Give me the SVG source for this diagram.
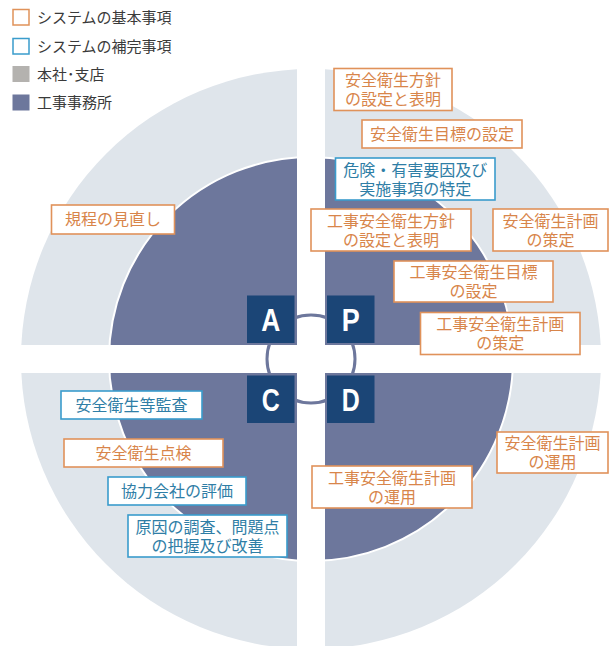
<svg xmlns="http://www.w3.org/2000/svg" width="611" height="646" viewBox="0 0 611 646">
<style>
.t{font-family:"Liberation Sans","Noto Sans CJK JP",sans-serif;font-size:16px;text-anchor:middle}
.o rect{fill:#fff;stroke:#e0925a;stroke-width:1.6}
.o text{fill:#d8854a}
.b rect{fill:#fff;stroke:#3a9ccc;stroke-width:1.6}
.b text{fill:#2f7ea6}
.lg{font-family:"Liberation Sans","Noto Sans CJK JP",sans-serif;font-size:15px;fill:#3a3a3a}
.k rect{fill:#1b4576}
.k text{font-family:"Liberation Sans",Arial,sans-serif;font-weight:bold;font-size:32px;fill:#fff;text-anchor:middle}
</style>
<rect width="611" height="646" fill="#fff"/>
<g id="legend">
<rect x="13" y="9.5" width="16" height="15.5" fill="#fff" stroke="#e0925a" stroke-width="1.5"/>
<text class="lg" x="37" y="22.5">システムの基本事項</text>
<rect x="13" y="38.5" width="16" height="15.5" fill="#fff" stroke="#3a9ccc" stroke-width="1.5"/>
<text class="lg" x="37" y="51.5">システムの補完事項</text>
<rect x="12.5" y="66" width="17" height="16" fill="#b4b2af"/>
<text class="lg" x="37" y="80">本社･支店</text>
<rect x="12.5" y="94.5" width="17" height="16" fill="#6d779c"/>
<text class="lg" x="37" y="108">工事事務所</text>
</g>
<g id="background">
<circle cx="311" cy="359" r="290" fill="#dfe5eb"/>
<circle cx="311" cy="359" r="202" fill="#6d779c" stroke="#fff" stroke-width="2"/>
<rect x="297" y="0" width="28" height="646" fill="#fff"/>
<rect x="0" y="345" width="611" height="28" fill="#fff"/>
</g>
<g id="connectors">
<circle cx="311" cy="359" r="44" fill="none" stroke="#6d779c" stroke-width="3"/>
</g>
<g id="node-A" class="k"><rect x="247" y="295.5" width="47.5" height="47.5"/><text x="270.7" y="331" textLength="19" lengthAdjust="spacingAndGlyphs">A</text></g>
<g id="node-P" class="k"><rect x="327" y="295.5" width="47.5" height="47.5"/><text x="350.7" y="331" textLength="18" lengthAdjust="spacingAndGlyphs">P</text></g>
<g id="node-C" class="k"><rect x="247" y="375.5" width="47.5" height="47.5"/><text x="270.7" y="411" textLength="18" lengthAdjust="spacingAndGlyphs">C</text></g>
<g id="node-D" class="k"><rect x="327" y="375.5" width="47.5" height="47.5"/><text x="350.7" y="411" textLength="18" lengthAdjust="spacingAndGlyphs">D</text></g>
<g id="n1" class="o t"><rect x="334" y="68.5" width="118" height="42"/><text x="393" y="86">安全衛生方針<tspan x="393" dy="19">の設定と表明</tspan></text></g>
<g id="n2" class="o t"><rect x="362" y="120" width="160" height="28"/><text x="442" y="140">安全衛生目標の設定</text></g>
<g id="n3" class="b t"><rect x="335.5" y="158" width="159.5" height="42"/><text x="415.3" y="175.5">危険・有害要因及び<tspan x="415.3" dy="19">実施事項の特定</tspan></text></g>
<g id="n4" class="o t"><rect x="311" y="209" width="160" height="42"/><text x="391" y="226.5">工事安全衛生方針<tspan x="391" dy="19">の設定と表明</tspan></text></g>
<g id="n5" class="o t"><rect x="493" y="209" width="115" height="42"/><text x="550.5" y="226.5">安全衛生計画<tspan x="550.5" dy="19">の策定</tspan></text></g>
<g id="n6" class="o t"><rect x="394" y="261" width="159" height="41"/><text x="473.5" y="278">工事安全衛生目標<tspan x="473.5" dy="19">の設定</tspan></text></g>
<g id="n7" class="o t"><rect x="420.5" y="312.5" width="159.5" height="42"/><text x="500.3" y="330">工事安全衛生計画<tspan x="500.3" dy="19">の策定</tspan></text></g>
<g id="n8" class="o t"><rect x="51.5" y="205" width="123" height="29"/><text x="113" y="225">規程の見直し</text></g>
<g id="n9" class="b t"><rect x="61" y="391" width="141" height="28"/><text x="131.5" y="411">安全衛生等監査</text></g>
<g id="n10" class="o t"><rect x="64" y="439" width="159" height="28"/><text x="143.5" y="459">安全衛生点検</text></g>
<g id="n11" class="b t"><rect x="108" y="477" width="138" height="28"/><text x="177" y="497">協力会社の評価</text></g>
<g id="n12" class="b t"><rect x="128" y="515" width="159" height="42"/><text x="207.5" y="532.5">原因の調査、問題点<tspan x="207.5" dy="19">の把握及び改善</tspan></text></g>
<g id="n13" class="o t"><rect x="497" y="432" width="111" height="41"/><text x="552.5" y="449">安全衛生計画<tspan x="552.5" dy="19">の運用</tspan></text></g>
<g id="n14" class="o t"><rect x="312" y="466" width="160" height="42"/><text x="392" y="483.5">工事安全衛生計画<tspan x="392" dy="19">の運用</tspan></text></g>
</svg>
